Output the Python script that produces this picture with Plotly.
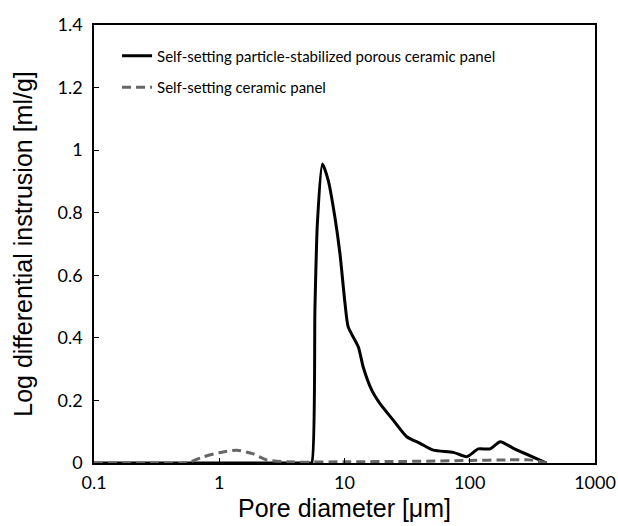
import plotly.graph_objects as go

# Solid: Self-setting particle-stabilized porous ceramic panel
d_porous = [0.1, 1.0, 5.2, 5.47, 5.81, 6.07, 6.66, 7.43, 8.39, 9.2, 10.1, 10.7, 12.9, 14.1, 16.5, 19.2,
            24.5, 31.4, 40.1, 51.2, 74, 94.6, 117, 145, 175, 223, 411]
v_porous = [0.0, 0.0, 0.0, 0.0, 0.498, 0.764, 0.956, 0.902, 0.785, 0.669, 0.509, 0.435, 0.371, 0.307,
            0.233, 0.190, 0.137, 0.084, 0.063, 0.041, 0.034, 0.020, 0.045, 0.045, 0.068, 0.047, 0.0]

# Dashed: Self-setting ceramic panel
d_ceramic = [0.1, 0.3, 0.55, 0.75, 1.0, 1.38, 1.87, 2.4, 3.9, 10, 30, 100, 200, 300, 411]
v_ceramic = [0.0, 0.0, 0.0, 0.02, 0.033, 0.041, 0.029, 0.01, 0.003, 0.004, 0.005, 0.008, 0.01, 0.01, 0.0]

name_porous = "Self-setting particle-stabilized porous ceramic panel"
name_ceramic = "Self-setting ceramic panel"

x_tickvals = [0.1, 1, 10, 100, 1000]
x_ticktext = ["0.1", "1", "10", "100", "1000"]
y_tickvals = [0, 0.2, 0.4, 0.6, 0.8, 1.0, 1.2, 1.4]
y_ticktext = ["0", "0.2", "0.4", "0.6", "0.8", "1", "1.2", "1.4"]

tick_font = dict(family="Lato, Liberation Sans, Arial", size=18, color="black")
title_font = dict(family="Liberation Sans, Arial", size=25, color="black")

fig = go.Figure()
fig.add_trace(go.Scatter(x=d_porous, y=v_porous, mode="lines", name=name_porous, legendgroup="a",
                         line=dict(color="black", width=3, shape="spline", smoothing=0.6)))
fig.add_trace(go.Scatter(x=d_ceramic, y=v_ceramic, mode="lines", name=name_ceramic, legendgroup="b",
                         line=dict(color="#666666", width=3, dash="9px,5px", shape="spline", smoothing=0.6)))

fig.update_layout(
    width=618, height=526,
    margin=dict(l=94, r=23, t=25, b=63),
    paper_bgcolor="white", plot_bgcolor="white",
    showlegend=True,
    legend=dict(x=0.046, y=0.967, xanchor="left", yanchor="top",
                font=dict(family="Lato, Liberation Sans, Arial", size=15, color="black"),
                bgcolor="rgba(0,0,0,0)", tracegroupgap=9, itemwidth=30),
)
fig.update_xaxes(type="log", range=[-1, 3], tickvals=x_tickvals, ticktext=x_ticktext,
                 ticks="inside", ticklen=5, tickcolor="black", showgrid=False, zeroline=False,
                 showline=True, linecolor="black", linewidth=1.5, mirror=True, automargin=False,
                 tickfont=tick_font, ticklabelstandoff=3,
                 title=dict(text="Pore diameter [\u03bcm]", font=title_font, standoff=7))
fig.update_yaxes(range=[0, 1.4], tickvals=y_tickvals, ticktext=y_ticktext,
                 ticks="inside", ticklen=5, tickcolor="black", showgrid=False, zeroline=False,
                 showline=True, linecolor="black", linewidth=1.5, mirror=True, automargin=False,
                 tickfont=tick_font, ticklabelstandoff=6,
                 title=dict(text="Log differential instrusion [ml/g]", font=title_font, standoff=18))

fig.write_html("out.html")
